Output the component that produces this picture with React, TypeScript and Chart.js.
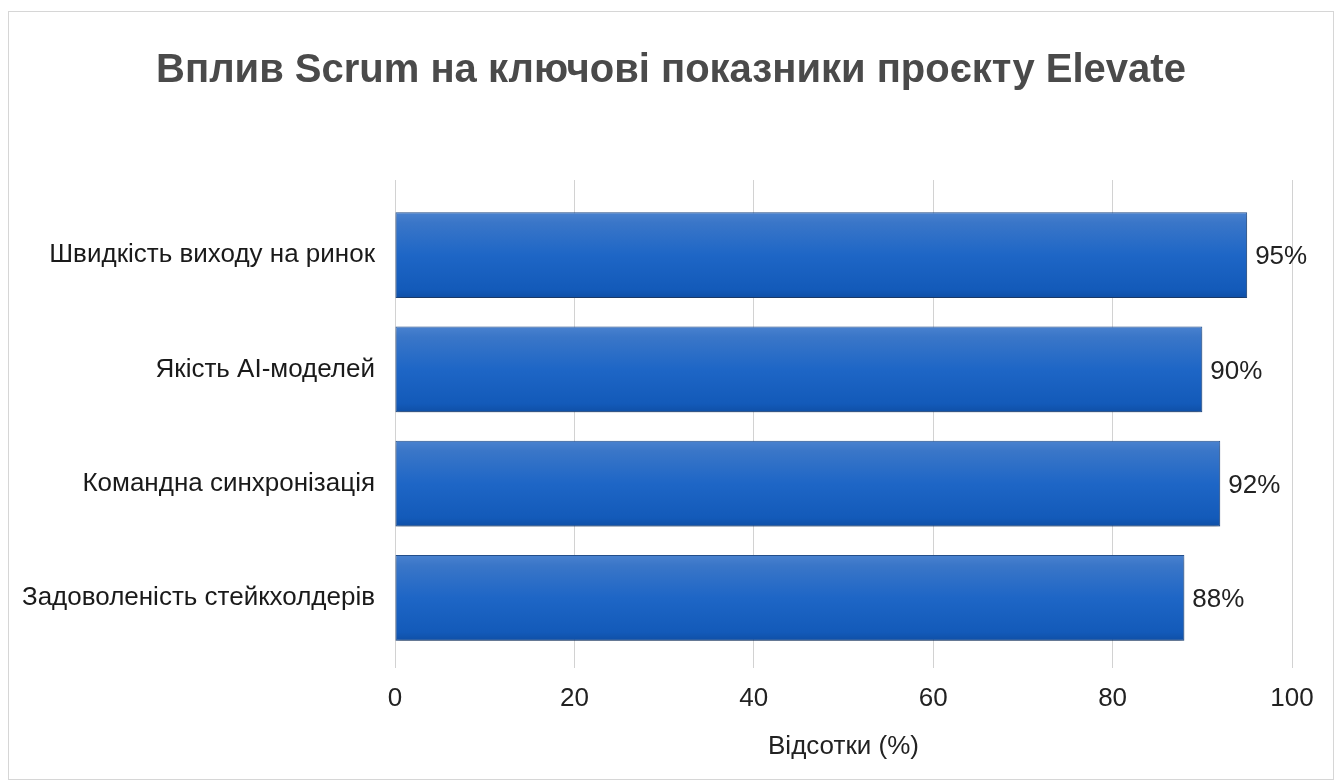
import React, { useEffect, useRef } from "react";
import { Chart, registerables } from "chart.js";

Chart.register(...registerables);

const categories = [
  "Швидкість виходу на ринок",
  "Якість AI-моделей",
  "Командна синхронізація",
  "Задоволеність стейкхолдерів",
];
const values = [95, 90, 92, 88];
const xTicks = [0, 20, 40, 60, 80, 100];
const titleText = "Вплив Scrum на ключові показники проєкту Elevate";
const axisTitle = "Відсотки (%)";

const FONT = "'Liberation Sans', Arial, Helvetica, sans-serif";

export default function App() {
  const ref = useRef<HTMLCanvasElement | null>(null);

  useEffect(() => {
    if (!ref.current) return;
    const BAR_PCT = 0.75;

    const titlePlugin = {
      id: "titleText",
      afterDraw(chart: any) {
        const { ctx } = chart;
        ctx.save();
        ctx.font = `bold 40px ${FONT}`;
        ctx.fillStyle = "#4a4a4a";
        ctx.textAlign = "center";
        ctx.textBaseline = "middle";
        ctx.fillText(titleText, chart.width / 2, 59);
        ctx.restore();
      },
    };

    const gridExtend = {
      id: "gridExtend",
      beforeDatasetsDraw(chart: any) {
        const { ctx, chartArea } = chart;
        const xs = chart.scales.x;
        ctx.save();
        ctx.strokeStyle = "#d2d2d2";
        ctx.lineWidth = 1;
        xTicks.forEach((v) => {
          const px = Math.round(xs.getPixelForValue(v) - 0.5) + 0.5;
          ctx.beginPath();
          ctx.moveTo(px, chartArea.top - 18);
          ctx.lineTo(px, chartArea.top);
          ctx.stroke();
        });
        ctx.restore();
      },
    };

    const shadow = {
      id: "barShadow",
      beforeDatasetDraw(chart: any) {
        const ctx = chart.ctx;
        ctx.save();
        ctx.shadowColor = "rgba(0,0,0,0.35)";
        ctx.shadowBlur = 5;
        ctx.shadowOffsetY = 3;
        ctx.shadowOffsetX = 0;
      },
      afterDatasetDraw(chart: any) {
        chart.ctx.restore();
      },
    };

    const valueLabels = {
      id: "valueLabels",
      afterDatasetsDraw(chart: any) {
        const { ctx } = chart;
        const meta = chart.getDatasetMeta(0);
        ctx.save();
        ctx.font = `26px ${FONT}`;
        ctx.fillStyle = "#222222";
        ctx.textAlign = "left";
        ctx.textBaseline = "middle";
        meta.data.forEach((bar: any, i: number) => {
          ctx.fillText(values[i] + "%", bar.x + 8, bar.y + 2);
        });
        ctx.restore();
      },
    };

    const chart = new Chart(ref.current, {
      type: "bar",
      data: {
        labels: categories,
        datasets: [
          {
            data: values,
            backgroundColor: (c: any) => {
              const ch = c.chart;
              const ys = ch.scales && ch.scales.y;
              if (!ys || !ch.chartArea) return "#1d64c4";
              const cy = ys.getPixelForValue(c.dataIndex);
              const h = (ch.chartArea.height / categories.length) * BAR_PCT;
              const g = ch.ctx.createLinearGradient(0, cy - h / 2, 0, cy + h / 2);
              g.addColorStop(0, "#4a82cf");
              g.addColorStop(0.12, "#3a76c8");
              g.addColorStop(0.5, "#1e66c6");
              g.addColorStop(0.9, "#135ab9");
              g.addColorStop(1, "#0f4fa6");
              return g;
            },
            borderColor: "#24508e",
            borderWidth: 1,
            borderSkipped: false,
            categoryPercentage: 1,
            barPercentage: BAR_PCT,
          },
        ],
      },
      options: {
        indexAxis: "y",
        animation: false,
        responsive: false,
        maintainAspectRatio: false,
        layout: { padding: { left: 0, right: 41, top: 186, bottom: 0 } },
        plugins: {
          legend: { display: false },
          tooltip: { enabled: false },
          title: { display: false },
        },
        scales: {
          x: {
            min: 0,
            max: 100,
            afterBuildTicks: (s: any) => {
              s.ticks = xTicks.map((v) => ({ value: v }));
            },
            afterFit: (s: any) => {
              s.height = 124;
            },
            grid: {
              color: "#d2d2d2",
              lineWidth: 1,
              drawTicks: true,
              tickLength: 13,
              tickColor: "#d2d2d2",
            },
            border: { display: false },
            ticks: {
              color: "#222222",
              padding: 15,
              font: { family: FONT, size: 26 },
            },
            title: {
              display: true,
              text: axisTitle,
              color: "#222222",
              font: { family: FONT, size: 26, lineHeight: 1.2 },
              padding: { top: 0, bottom: 17 },
            },
          },
          y: {
            afterFit: (s: any) => {
              s.width = 386;
            },
            grid: { display: false, drawTicks: false },
            border: { display: false },
            ticks: {
              color: "#1a1a1a",
              padding: 20,
              font: { family: FONT, size: 26 },
            },
          },
        },
      },
      plugins: [gridExtend, shadow, valueLabels, titlePlugin],
    } as any);

    return () => chart.destroy();
  }, []);

  return (
    <div
      style={{
        position: "absolute",
        left: 8,
        top: 11,
        width: 1326,
        height: 769,
        border: "1px solid #d6d6d6",
        boxSizing: "border-box",
        background: "#ffffff",
      }}
    >
      <canvas ref={ref} width={1324} height={767} style={{ display: "block" }} />
    </div>
  );
}
